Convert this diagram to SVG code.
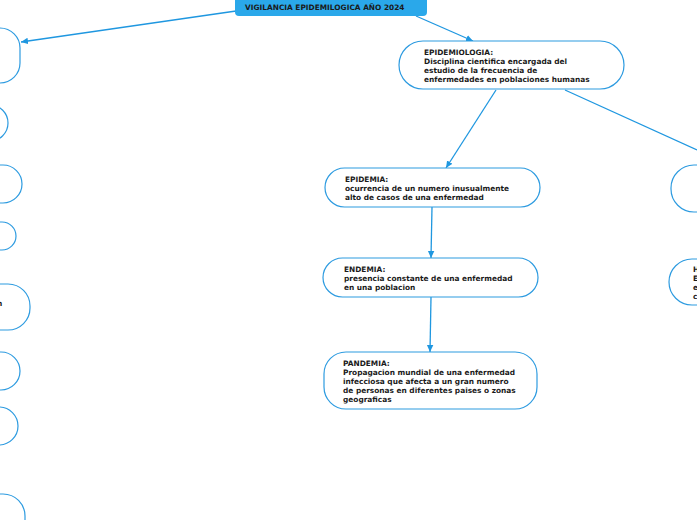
<svg xmlns="http://www.w3.org/2000/svg" width="697" height="520" viewBox="0 0 697 520">
<defs>
<marker id="ah" markerWidth="8" markerHeight="8" refX="7" refY="4" orient="auto" markerUnits="userSpaceOnUse">
<path d="M0,0.8 L7,4 L0,7.2 Z" fill="#1f97e0"/>
</marker>
<style>
.n{fill:#fff;stroke:#2d9be0;stroke-width:1.2}
.t{font-family:"DejaVu Sans",Verdana,sans-serif;font-weight:bold;font-size:7.4px;fill:#1a1a1a}
.c{stroke:#1f97e0;stroke-width:1.3;fill:none;marker-end:url(#ah)}
.c2{stroke:#1f97e0;stroke-width:1.3;fill:none}
</style>
</defs>
<rect width="697" height="520" fill="#fff"/>
<g id="connectors">
<path class="c" d="M236,11 L21,42"/>
<path class="c" d="M416,16 L473,41"/>
<path class="c" d="M496,90 L446,168"/>
<path class="c2" d="M565,90 L697,150"/>
<path class="c" d="M432,207 L431,258"/>
<path class="c" d="M431,297 L430,352"/>
</g>
<g id="title">
<path d="M235,-6 H427 V12 Q427,16 423,16 H239 Q235,16 235,12 Z" fill="#2aa8ea"/>
<text class="t" x="245" y="10" font-size="7.6">VIGILANCIA EPIDEMILOGICA AÑO 2024</text>
</g>
<g id="epidemiologia">
<rect class="n" x="399" y="41" width="225" height="48" rx="24"/>
<text class="t" x="424" y="55">EPIDEMIOLOGIA:</text>
<text class="t" x="424" y="64">Disciplina cientifica encargada del</text>
<text class="t" x="424" y="73">estudio de la frecuencia de</text>
<text class="t" x="424" y="82">enfermedades en poblaciones humanas</text>
</g>
<g id="epidemia">
<rect class="n" x="325" y="168" width="215" height="39" rx="19.5"/>
<text class="t" x="345" y="182">EPIDEMIA:</text>
<text class="t" x="345" y="191">ocurrencia de un numero inusualmente</text>
<text class="t" x="345" y="200">alto de casos de una enfermedad</text>
</g>
<g id="endemia">
<rect class="n" x="323" y="258" width="215" height="39" rx="19.5"/>
<text class="t" x="344" y="272">ENDEMIA:</text>
<text class="t" x="344" y="281">presencia constante de una enfermedad</text>
<text class="t" x="344" y="290">en una poblacion</text>
</g>
<g id="pandemia">
<rect class="n" x="324" y="352" width="213" height="57" rx="22"/>
<text class="t" x="343" y="366">PANDEMIA:</text>
<text class="t" x="343" y="375">Propagacion mundial de una enfermedad</text>
<text class="t" x="343" y="384">infecciosa que afecta a un gran numero</text>
<text class="t" x="343" y="393">de personas en diferentes paises o zonas</text>
<text class="t" x="343" y="402">geograficas</text>
</g>
<g id="left1"><rect class="n" x="-200" y="28" width="220" height="55" rx="20"/></g>
<g id="left2"><rect class="n" x="-200" y="105" width="208" height="36" rx="18"/></g>
<g id="left3"><rect class="n" x="-200" y="165" width="222" height="38" rx="19"/></g>
<g id="left4"><rect class="n" x="-200" y="222" width="216" height="28" rx="14"/></g>
<g id="left5"><rect class="n" x="-200" y="284" width="230" height="46" rx="22"/>
<text class="t" x="-3" y="306">n</text></g>
<g id="left6"><rect class="n" x="-200" y="352" width="220" height="38" rx="19"/></g>
<g id="left7"><rect class="n" x="-200" y="407" width="218" height="38" rx="19"/></g>
<g id="left8"><rect class="n" x="-200" y="494" width="225" height="60" rx="22"/></g>
<g id="right1"><rect class="n" x="671" y="165" width="220" height="47" rx="23"/></g>
<g id="right2"><rect class="n" x="669" y="259" width="220" height="46" rx="23"/>
<text class="t" x="693" y="272">H</text>
<text class="t" x="693" y="281">E</text>
<text class="t" x="693" y="290">e</text>
<text class="t" x="693" y="299">c</text></g>
</svg>
